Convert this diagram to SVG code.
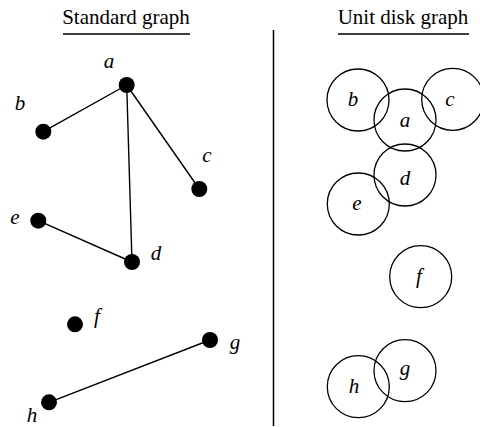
<svg xmlns="http://www.w3.org/2000/svg" width="480" height="427" viewBox="0 0 480 427">
<style>
.title{font-family:"Liberation Serif",serif;font-size:21px;fill:#000;text-anchor:middle}
.lbl{font-family:"Liberation Serif",serif;font-style:italic;font-size:21px;fill:#000;text-anchor:middle}
.rule{stroke:#000;stroke-width:1.5}
.edge{stroke:#000;stroke-width:1.4;fill:none}
.dot{fill:#000}
.disk{fill:none;stroke:#000;stroke-width:1.3}
</style>
<rect width="480" height="427" fill="#fff"/>
<text class="title" x="126" y="24">Standard graph</text>
<line class="rule" x1="63" y1="34" x2="190" y2="34"/>
<text class="title" x="403" y="24">Unit disk graph</text>
<line class="rule" x1="338" y1="34" x2="469" y2="34"/>
<line class="rule" x1="273.5" y1="30" x2="273.5" y2="426"/>
<g id="edges">
<line class="edge" x1="126.7" y1="85" x2="43.3" y2="131.7"/>
<line class="edge" x1="126.7" y1="85" x2="199.3" y2="189"/>
<line class="edge" x1="126.7" y1="85" x2="132" y2="262"/>
<line class="edge" x1="38.3" y1="220.7" x2="132" y2="262"/>
<line class="edge" x1="210" y1="340" x2="49" y2="402.3"/>
</g>
<g id="node-a"><circle class="dot" cx="126.7" cy="85" r="8"/><text class="lbl" x="109" y="68">a</text></g>
<g id="node-b"><circle class="dot" cx="43.3" cy="131.7" r="8"/><text class="lbl" x="20" y="110">b</text></g>
<g id="node-c"><circle class="dot" cx="199.3" cy="189" r="8"/><text class="lbl" x="207" y="162">c</text></g>
<g id="node-d"><circle class="dot" cx="132" cy="262" r="8"/><text class="lbl" x="156" y="260">d</text></g>
<g id="node-e"><circle class="dot" cx="38.3" cy="220.7" r="8"/><text class="lbl" x="15" y="224">e</text></g>
<g id="node-f"><circle class="dot" cx="75" cy="324.3" r="8"/><text class="lbl" x="97" y="323">f</text></g>
<g id="node-g"><circle class="dot" cx="210" cy="340" r="8"/><text class="lbl" x="235" y="349">g</text></g>
<g id="node-h"><circle class="dot" cx="49" cy="402.3" r="8"/><text class="lbl" x="32" y="422">h</text></g>
<g id="disk-b"><circle class="disk" cx="358" cy="100" r="31"/><text class="lbl" x="353" y="106">b</text></g>
<g id="disk-a"><circle class="disk" cx="405" cy="120" r="31"/><text class="lbl" x="405" y="127">a</text></g>
<g id="disk-c"><circle class="disk" cx="452.7" cy="99.3" r="31"/><text class="lbl" x="450" y="106">c</text></g>
<g id="disk-d"><circle class="disk" cx="405" cy="175" r="31"/><text class="lbl" x="405" y="185">d</text></g>
<g id="disk-e"><circle class="disk" cx="358.3" cy="204" r="31"/><text class="lbl" x="357" y="210">e</text></g>
<g id="disk-f"><circle class="disk" cx="420.7" cy="276.7" r="31"/><text class="lbl" x="419" y="283">f</text></g>
<g id="disk-g"><circle class="disk" cx="405" cy="370.7" r="31"/><text class="lbl" x="405" y="375">g</text></g>
<g id="disk-h"><circle class="disk" cx="358.3" cy="386.7" r="31"/><text class="lbl" x="354" y="393">h</text></g>
</svg>
